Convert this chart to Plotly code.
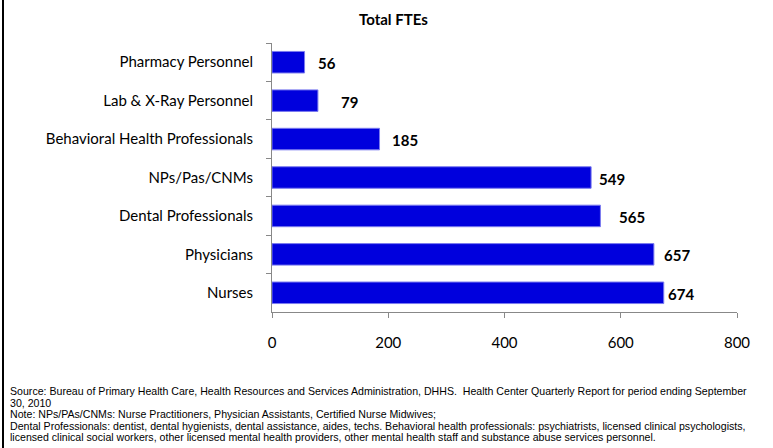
import plotly.graph_objects as go

categories = ["Pharmacy Personnel", "Lab & X-Ray Personnel", "Behavioral Health Professionals",
              "NPs/Pas/CNMs", "Dental Professionals", "Physicians", "Nurses"]
values = [56, 79, 185, 549, 565, 657, 674]
x_ticks = [0, 200, 400, 600, 800]
label_shift = [11, 21, 10, 6, 17, 8, 2]

footnote_lines = [
    "Source: Bureau of Primary Health Care, Health Resources and Services Administration, DHHS.  "
    "Health Center Quarterly Report for period ending September",
    "30, 2010",
    "Note: NPs/PAs/CNMs: Nurse Practitioners, Physician Assistants, Certified Nurse Midwives;",
    "Dental Professionals: dentist, dental hygienists, dental assistance, aides, techs. "
    "Behavioral health professionals: psychiatrists, licensed clinical psychologists,",
    "licensed clinical social workers, other licensed mental health providers, "
    "other mental health staff and substance abuse services personnel.",
]

W, H = 773, 448
L, R, T, B = 272, 36, 43, 136
PW, PH = W - L - R, H - T - B
main_font = "Lato, Open Sans, sans-serif"


def px_x(p):
    return (p - L) / PW


def px_y(p):
    return 1 - (p - T) / PH


fig = go.Figure(go.Bar(
    x=values, y=categories, orientation="h",
    marker=dict(color="#0000DD", line=dict(color="#7B7BEF", width=1)),
    width=0.56,
))

for c, v, s in zip(categories, values, label_shift):
    fig.add_annotation(x=v, y=c, xref="x", yref="y", text=f"<b>{v}</b>", showarrow=False,
                       xanchor="left", yanchor="middle", xshift=s, yshift=-1,
                       font=dict(family=main_font, size=15, color="black"))

fig.add_annotation(x=px_x(393), y=px_y(19), xref="paper", yref="paper",
                   text="<b>Total FTEs</b>", showarrow=False, xanchor="center", yanchor="middle",
                   font=dict(family=main_font, size=15, color="black"))

for i, line in enumerate(footnote_lines):
    fig.add_annotation(x=px_x(8), y=px_y(391 + i * 11.5), xref="paper", yref="paper",
                       text=line, showarrow=False, xanchor="left", yanchor="middle", align="left",
                       font=dict(family="Liberation Sans Narrow, Liberation Sans, Arial", size=10.6,
                                 color="black"))

fig.add_shape(type="line", xref="paper", yref="paper",
              x0=px_x(3), x1=px_x(3), y0=px_y(H), y1=px_y(0),
              line=dict(color="black", width=2))

fig.update_layout(
    width=W, height=H, margin=dict(l=L, r=R, t=T, b=B),
    plot_bgcolor="white", paper_bgcolor="white", showlegend=False,
    xaxis=dict(range=[0, 800], tickvals=x_ticks, showgrid=False, zeroline=False,
               showline=True, linecolor="#888888", linewidth=1, ticks="outside", ticklen=5,
               tickcolor="#888888", tickfont=dict(family=main_font, size=15, color="black"),
               ticklabelstandoff=12),
    yaxis=dict(autorange="reversed", showgrid=False, showline=True, linecolor="#888888", linewidth=1,
               ticks="outside", ticklen=5, tickcolor="#888888", tickson="boundaries",
               tickfont=dict(family=main_font, size=15, color="black"), ticklabelstandoff=15),
)

fig.write_html("out.html", config={"displayModeBar": False},
               post_script="document.body.style.margin='0px';")
